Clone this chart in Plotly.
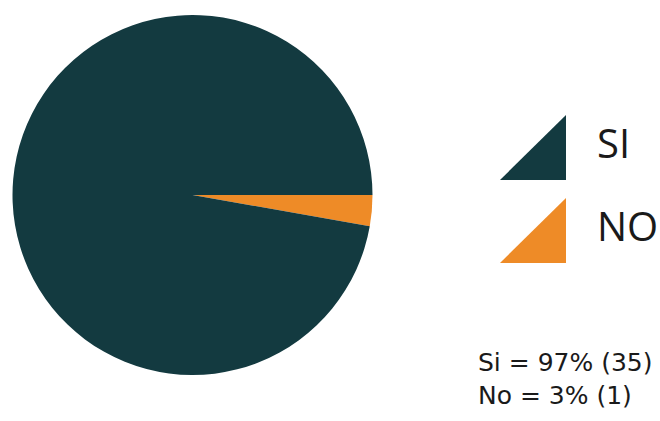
import plotly.graph_objects as go

W, H = 660, 421
labels = ["NO", "SI"]
counts = [1, 35]
colors = ["#EE8B27", "#133A40"]
legend_labels = ["SI", "NO"]
summary_lines = ["Si = 97% (35)", "No = 3% (1)"]

def px(x):
    return x / W

def py(y):
    return 1 - y / H

fig = go.Figure(go.Pie(
    labels=labels, values=counts, sort=False, direction="clockwise", rotation=90,
    marker=dict(colors=colors, line=dict(width=0)), textinfo="none", hoverinfo="label+value+percent",
    domain=dict(x=[px(12), px(373)], y=[py(375), py(15)]), showlegend=False,
))

shapes = []
annotations = []
tri_tops = [(115, 180), (198, 263)]
tri_colors = [colors[1], colors[0]]
for (t, b), c, lab in zip(tri_tops, tri_colors, legend_labels):
    shapes.append(dict(type="path", xref="paper", yref="paper",
                       path=f"M {px(500)} {py(b)} L {px(566)} {py(b)} L {px(566)} {py(t)} Z",
                       fillcolor=c, line=dict(width=0)))
    annotations.append(dict(text=lab, xref="paper", yref="paper", x=px(595), y=py((t + b) / 2 - 5),
                            xanchor="left", yanchor="middle", showarrow=False,
                            font=dict(family="Open Sans", size=40, color="#1a1a1a")))

annotations.append(dict(text="<br>".join(summary_lines), xref="paper", yref="paper",
                        x=px(476), y=py(379), xanchor="left", yanchor="middle", align="left",
                        showarrow=False,
                        font=dict(family="DejaVu Sans", size=25, color="#1a1a1a")))

fig.update_layout(width=W, height=H, margin=dict(l=0, r=0, t=0, b=0),
                  paper_bgcolor="white", plot_bgcolor="white",
                  shapes=shapes, annotations=annotations)
fig.write_html("out.html", config={"displayModeBar": False},
               post_script="document.body.style.margin='0';document.body.style.overflow='hidden';")
